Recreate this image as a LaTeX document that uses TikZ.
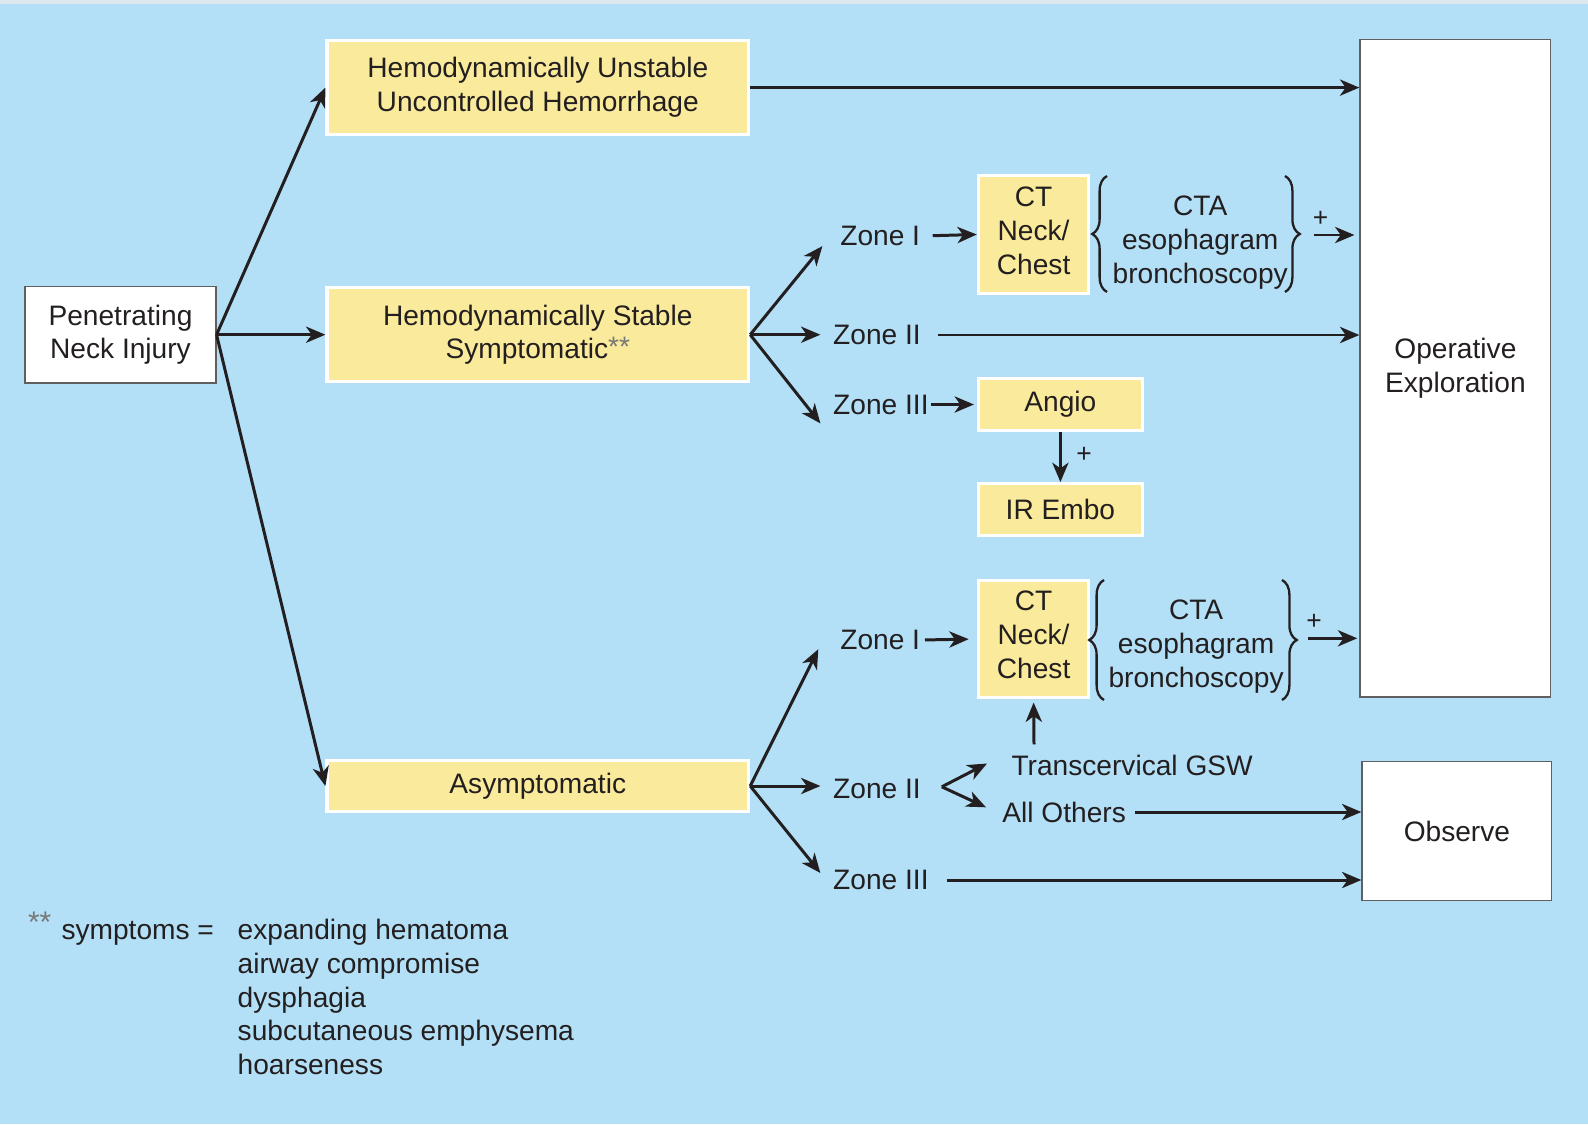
\documentclass[tikz,border=0pt]{standalone}
\usepackage{fontspec}
\setmainfont{Liberation Sans}
\usetikzlibrary{arrows.meta,decorations.pathreplacing}
\definecolor{bgblue}{RGB}{179,224,246}
\definecolor{topstrip}{RGB}{221,232,238}
\definecolor{boxyellow}{RGB}{250,234,155}
\definecolor{ink}{RGB}{35,31,32}
\definecolor{edgegray}{RGB}{95,95,95}
\definecolor{stargray}{RGB}{120,120,120}
\begin{document}
\begin{tikzpicture}[x=0.01cm,y=-0.01cm,
  font=\fontsize{8}{9.6}\selectfont, text=ink,
  ybox/.style={draw=white, line width=0.9pt, fill=boxyellow, align=center, inner sep=0pt},
  wbox/.style={draw=edgegray, line width=0.45pt, fill=white, align=center, inner sep=0pt},
  lbl/.style={inner sep=0pt, anchor=west},
  plus/.style={inner sep=0pt, font=\fontsize{7.5}{8}\selectfont},
  arr/.style={draw=ink, line width=0.85pt, -{Stealth[length=5.5pt,width=4.6pt,inset=1.6pt]}},
  cbrace/.style={draw=ink, line width=0.65pt, decorate, decoration={brace, amplitude=4.2pt}}
]
% background
\fill[bgblue] (0,0) rectangle (1588,1124);
\fill[topstrip] (0,0) rectangle (1588,4);

% main boxes
\node[wbox, minimum width=1.904cm, minimum height=0.962cm] (pni) at (120.5,334.7) {Penetrating\\Neck Injury};
\node[ybox, minimum width=4.214cm, minimum height=0.942cm] (unst) at (537.8,87.6) {Hemodynamically Unstable\\Uncontrolled Hemorrhage};
\node[ybox, minimum width=4.214cm, minimum height=0.942cm] (stab) at (537.8,334.7) {Hemodynamically Stable\\Symptomatic\smash{\raisebox{0.08em}{\textcolor{stargray}{\fontsize{8}{8}\selectfont **}}}};
\node[ybox, minimum width=4.214cm, minimum height=0.507cm] (asym) at (537.8,786) {Asymptomatic};
\node[wbox, minimum width=1.904cm, minimum height=6.573cm] (oper) at (1455.4,368.2) {Operative\\Exploration};
\node[wbox, minimum width=1.894cm, minimum height=1.388cm] (obs) at (1456.9,831) {Observe};

% secondary boxes
\node[ybox, minimum width=1.104cm, minimum height=1.185cm, text depth=2.2pt] (ct1) at (1033.6,234.5) {CT\\Neck/\\Chest};
\node[ybox, minimum width=1.64cm, minimum height=0.526cm] (angio) at (1060.4,404.5) {Angio};
\node[ybox, minimum width=1.64cm, minimum height=0.517cm] (ir) at (1060.4,509.5) {IR Embo};
\node[ybox, minimum width=1.104cm, minimum height=1.175cm, text depth=2.4pt] (ct2) at (1033.6,639) {CT\\Neck/\\Chest};

% zone labels
\node[lbl] (z1a) at (839.6,236) {Zone I};
\node[lbl] (z2a) at (832.5,335) {Zone II};
\node[lbl] (z3a) at (832.5,404.5) {Zone III};
\node[lbl] (z1b) at (839.6,640) {Zone I};
\node[lbl] (z2b) at (832.5,789) {Zone II};
\node[lbl] (z3b) at (832.5,880) {Zone III};
\node[lbl] (tgsw) at (1010.8,765.5) {Transcervical GSW};
\node[lbl] (allo) at (1001.7,812) {All Others};

% CTA groups
\node[align=center, inner sep=0pt] (cta1) at (1200.2,242.5) {CTA\\esophagram\\bronchoscopy};
\node[align=center, inner sep=0pt] (cta2) at (1196.1,646.5) {CTA\\esophagram\\bronchoscopy};
\draw[cbrace] (1107,292) -- (1107,176);
\draw[cbrace] (1285,176) -- (1285,292);
\draw[cbrace] (1104,700) -- (1104,580);
\draw[cbrace] (1282,580) -- (1282,700);

% plus signs
\node[plus] (p1) at (1320.5,219) {+};
\node[plus] (p2) at (1314,622) {+};
\node[plus] (p3) at (1084,455) {+};

% coordinates
\coordinate (b1) at (1314,235);
\coordinate (b2) at (1308,638.3);
\coordinate (s1) at (822.4,246.1);
\coordinate (s2) at (820.4,334.7);
\coordinate (s3) at (820.4,423.4);
\coordinate (a1) at (818.3,649.2);
\coordinate (a2) at (820.4,786);
\coordinate (a3) at (820.4,873);
\coordinate (chv) at (941.8,786.8);
\coordinate (chu) at (987,763.5);
\coordinate (chd) at (986,807.3);
\coordinate (tg) at (1034,744.4);

% connectors from injury
\draw[arr] (pni.east) -- (unst.west);
\draw[arr] (pni.east) -- (stab.west);
\draw[arr] (pni.east) -- (asym.west);
\draw[arr] (unst.east) -- (oper.west |- unst.east);

% stable branch
\draw[arr] (stab.east) -- (s1);
\draw[arr] (stab.east) -- (s2);
\draw[arr] (stab.east) -- (s3);
\draw[arr, shorten <=3.4pt] (z1a.east) -- (ct1.west);
\draw[arr, shorten <=4.6pt] (z2a.east) -- (oper.west |- z2a.east);
\draw[arr, shorten <=0.6pt, shorten >=0.8pt] (z3a.east) -- (angio.west);
\draw[arr] (angio.south) -- (ir.north);
\draw[arr, shorten >=1.4pt] (b1) -- (oper.west |- b1);

% asymptomatic branch
\draw[arr] (asym.east) -- (a1);
\draw[arr] (asym.east) -- (a2);
\draw[arr] (asym.east) -- (a3);
\draw[arr, shorten <=1.2pt, shorten >=2.3pt] (z1b.east) -- (ct2.west);
\draw[arr, shorten >=0.6pt] (b2) -- (oper.west |- b2);
\draw[arr] (chv) -- (chu);
\draw[arr] (chv) -- (chd);
\draw[arr, shorten >=0.9pt] (tg) -- (ct2.south);
\draw[arr, shorten <=2.3pt] (allo.east) -- (obs.west |- allo.east);
\draw[arr, shorten <=4.9pt] (z3b.east) -- (obs.west |- z3b.east);

% footnote
\node[lbl, text=stargray, font=\fontsize{8.5}{9}\selectfont] (stars) at (27.3,922) {**};
\node[lbl] (sym) at (60.8,933) {symptoms =};
\node[lbl, align=left] (symlist) at (237,997) {expanding hematoma\\airway compromise\\dysphagia\\subcutaneous emphysema\\hoarseness};
\end{tikzpicture}
\end{document}
